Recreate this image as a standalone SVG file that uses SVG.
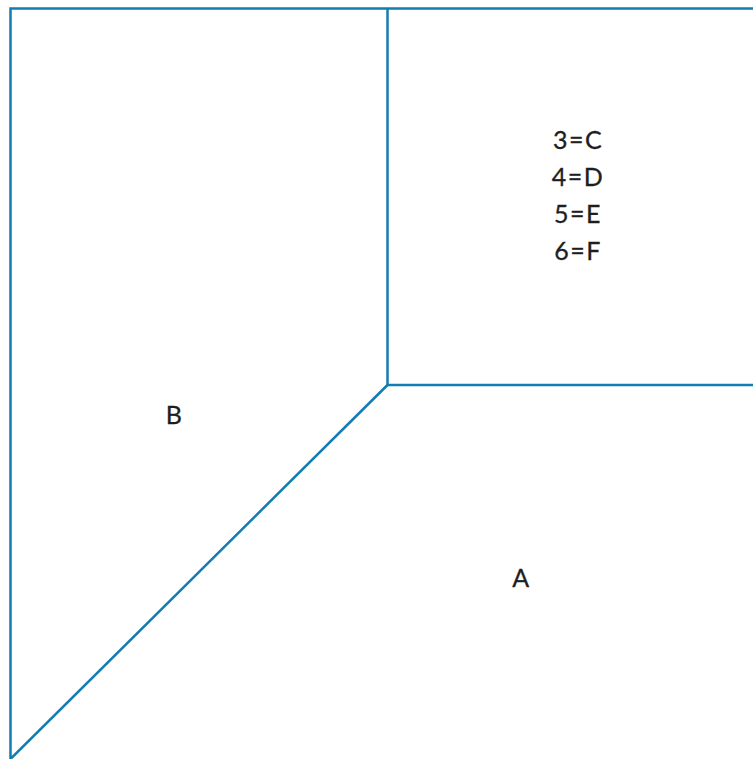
<svg xmlns="http://www.w3.org/2000/svg" width="753" height="759" viewBox="0 0 753 759">
<style>
.ln{stroke:#137cb0;stroke-width:2.5;fill:none;stroke-linecap:butt}
.t{font-family:Lato,"Noto Sans","Liberation Sans",sans-serif;font-size:25px;letter-spacing:1.5px;fill:#1e1e1e;text-anchor:middle;stroke:#1e1e1e;stroke-width:0.3}
</style>
<rect width="753" height="759" fill="#fff"/>
<g id="connectors">
<path class="ln" d="M10.5,759 V8.5 H753"/>
<path class="ln" d="M387.5,8.5 V385 H753"/>
<path class="ln" d="M387.5,385 L10.5,759"/>
</g>
<g id="node-B"><text class="t" x="174.5" y="424">B</text></g>
<g id="node-A"><text class="t" x="521.5" y="587">A</text></g>
<g id="node-CDEF">
<text class="t" x="578" y="148.5">3=C</text>
<text class="t" x="578" y="185.5">4=D</text>
<text class="t" x="578" y="222.5">5=E</text>
<text class="t" x="578" y="259.5">6=F</text>
</g>
</svg>
